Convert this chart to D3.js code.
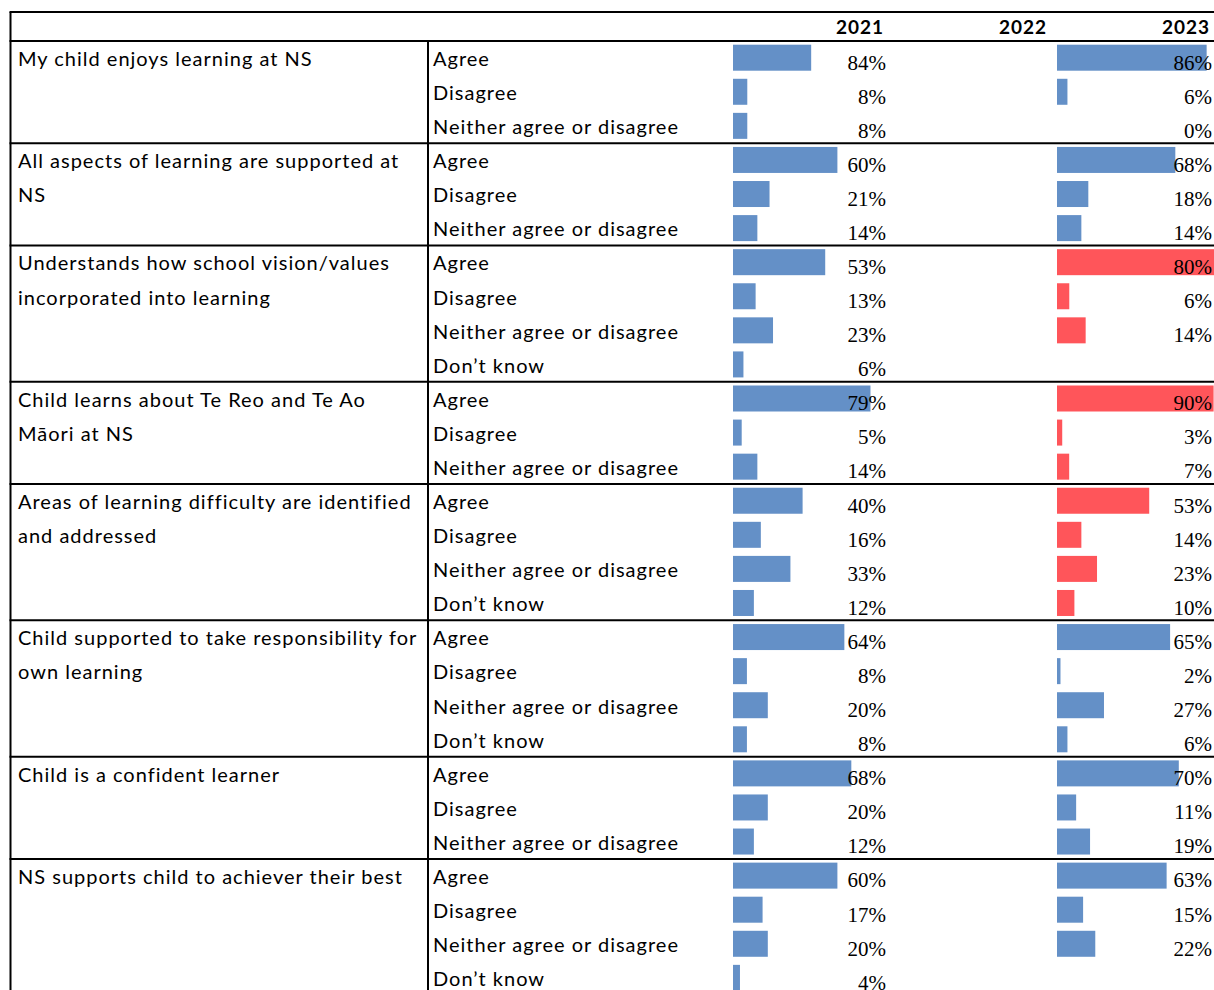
<!DOCTYPE html>
<html>
<head>
<meta charset="utf-8">
<script src="https://cdn.jsdelivr.net/npm/d3@7"></script>
<style>
  html, body { margin: 0; padding: 0; background: #fff; overflow: hidden; }
  svg { display: block; }
</style>
</head>
<body>
<div id="chart"></div>
<script>
// survey table with in-cell data bars

const years = ['2021', '2022', '2023'];

const questions = [
    ['My child enjoys learning at NS'],
    ['All aspects of learning are supported at', 'NS'],
    ['Understands how school vision/values', 'incorporated into learning'],
    ['Child learns about Te Reo and Te Ao', 'M\u0101ori at NS'],
    ['Areas of learning difficulty are identified', 'and addressed'],
    ['Child supported to take responsibility for', 'own learning'],
    ['Child is a confident learner'],
    ['NS supports child to achiever their best']
];

const responses = [
    ['Agree', 'Disagree', 'Neither agree or disagree'],
    ['Agree', 'Disagree', 'Neither agree or disagree'],
    ['Agree', 'Disagree', 'Neither agree or disagree', 'Don\u2019t know'],
    ['Agree', 'Disagree', 'Neither agree or disagree'],
    ['Agree', 'Disagree', 'Neither agree or disagree', 'Don\u2019t know'],
    ['Agree', 'Disagree', 'Neither agree or disagree', 'Don\u2019t know'],
    ['Agree', 'Disagree', 'Neither agree or disagree'],
    ['Agree', 'Disagree', 'Neither agree or disagree', 'Don\u2019t know']
];

const values2021 = [
    [84, 8, 8],
    [60, 21, 14],
    [53, 13, 23, 6],
    [79, 5, 14],
    [40, 16, 33, 12],
    [64, 8, 20, 8],
    [68, 20, 12],
    [60, 17, 20, 4]
];

const values2023 = [
    [86, 6, 0],
    [68, 18, 14],
    [80, 6, 14, null],
    [90, 3, 7],
    [53, 14, 23, 10],
    [65, 2, 27, 6],
    [70, 11, 19],
    [63, 15, 22, null]
];

// 2023 groups shown with red data bars
const flagged2023 = [false, false, true, true, true, false, false, false];

// each group carries its own data-bar range (as in the sheet)
const domains2021 = [[-9, 198], [0, 100], [0, 100], [0, 100], [0, 100], [0, 100], [0, 100], [0, 100]];
const domains2023 = [[0, 100], [0, 100], [0, 85], [0, 100], [0, 100], [0, 100], [0, 100], [0, 100]];

const W = 1214, H = 990;
const rowH = 34.08;
const tableTop = 12, headerBottom = 41;
const leftX = 10.5, dividerX = 428;
const barMax = 174;
const col = {
    '2021': { barX: 733, textX: 886, headX: 884 },
    '2022': { headX: 1047 },
    '2023': { barX: 1057, textX: 1212, headX: 1210 }
};
const blue = '#6490c7', red = '#ff555a';
const labelFont = 'Lato, "Open Sans", sans-serif';
const numFont = '"Liberation Serif", serif';

const svg = d3.select('#chart').append('svg')
    .attr('width', W)
    .attr('height', H)
    .attr('viewBox', [0, 0, W, H]);

// row layout
let rowStart = 0;
const groups = questions.map((q, i) => {
    const g = { i, q, start: rowStart, n: responses[i].length };
    rowStart += g.n;
    return g;
});
const y = d3.scaleLinear().domain([0, 1]).range([headerBottom, headerBottom + rowH]);

// Header
svg.append('g')
    .selectAll('text')
    .data(years)
    .join('text')
    .attr('x', d => col[d].headX)
    .attr('y', 34)
    .attr('text-anchor', 'end')
    .attr('font-family', labelFont)
    .attr('font-size', 19)
    .attr('font-weight', 700)
    .attr('letter-spacing', 1)
    .attr('fill', '#000')
    .text(d => d);

const body = svg.append('g');

groups.forEach(g => {
    const x21 = d3.scaleLinear().domain(domains2021[g.i]).range([0, barMax]);
    const x23 = d3.scaleLinear().domain(domains2023[g.i]).range([0, barMax]);
    const gg = body.append('g');

    // question text, one line per row
    gg.selectAll('text.q')
        .data(g.q)
        .join('text')
        .attr('class', 'q')
        .attr('x', 18)
        .attr('y', (d, k) => y(g.start + k) + 25)
        .attr('font-family', labelFont)
        .attr('font-size', 20)
        .attr('letter-spacing', 1)
        .attr('fill', '#000')
        .text(d => d);

    const rows = responses[g.i].map((r, k) => ({
        r, k, v21: values2021[g.i][k], v23: values2023[g.i][k]
    }));

    gg.selectAll('text.r')
        .data(rows)
        .join('text')
        .attr('class', 'r')
        .attr('x', 433)
        .attr('y', d => y(g.start + d.k) + 25)
        .attr('font-family', labelFont)
        .attr('font-size', 20)
        .attr('letter-spacing', 1)
        .attr('fill', '#000')
        .text(d => d.r);

    // 2021 bars
    gg.selectAll('rect.b21')
        .data(rows.filter(d => d.v21 != null && d.v21 > 0))
        .join('rect')
        .attr('class', 'b21')
        .attr('x', col['2021'].barX)
        .attr('y', d => y(g.start + d.k) + 3.7)
        .attr('width', d => Math.max(0, x21(d.v21)))
        .attr('height', 26)
        .attr('fill', blue);

    // 2023 bars
    gg.selectAll('rect.b23')
        .data(rows.filter(d => d.v23 != null && d.v23 > 0))
        .join('rect')
        .attr('class', 'b23')
        .attr('x', col['2023'].barX)
        .attr('y', d => y(g.start + d.k) + 3.7)
        .attr('width', d => Math.max(0, x23(d.v23)))
        .attr('height', 26)
        .attr('fill', flagged2023[g.i] ? red : blue);

    gg.selectAll('text.v21')
        .data(rows.filter(d => d.v21 != null))
        .join('text')
        .attr('class', 'v21')
        .attr('x', col['2021'].textX)
        .attr('y', d => y(g.start + d.k) + 28.5)
        .attr('text-anchor', 'end')
        .attr('font-family', numFont)
        .attr('font-size', 21)
        .attr('fill', '#000')
        .text(d => d.v21 + '%');

    gg.selectAll('text.v23')
        .data(rows.filter(d => d.v23 != null))
        .join('text')
        .attr('class', 'v23')
        .attr('x', col['2023'].textX)
        .attr('y', d => y(g.start + d.k) + 28.5)
        .attr('text-anchor', 'end')
        .attr('font-family', numFont)
        .attr('font-size', 21)
        .attr('fill', '#000')
        .text(d => d.v23 + '%');
});

// Grid lines
const lines = svg.append('g').attr('stroke', '#000').attr('stroke-width', 2);
lines.append('line').attr('x1', leftX - 1).attr('x2', W).attr('y1', tableTop).attr('y2', tableTop);
lines.append('line').attr('x1', leftX - 1).attr('x2', W).attr('y1', headerBottom).attr('y2', headerBottom);
lines.selectAll('line.sep')
    .data(groups.slice(1))
    .join('line')
    .attr('class', 'sep')
    .attr('x1', leftX - 1)
    .attr('x2', W)
    .attr('y1', d => y(d.start))
    .attr('y2', d => y(d.start));
lines.append('line').attr('x1', leftX).attr('x2', leftX).attr('y1', tableTop).attr('y2', H);
lines.append('line').attr('x1', dividerX).attr('x2', dividerX).attr('y1', headerBottom).attr('y2', H);
</script>
</body>
</html>
